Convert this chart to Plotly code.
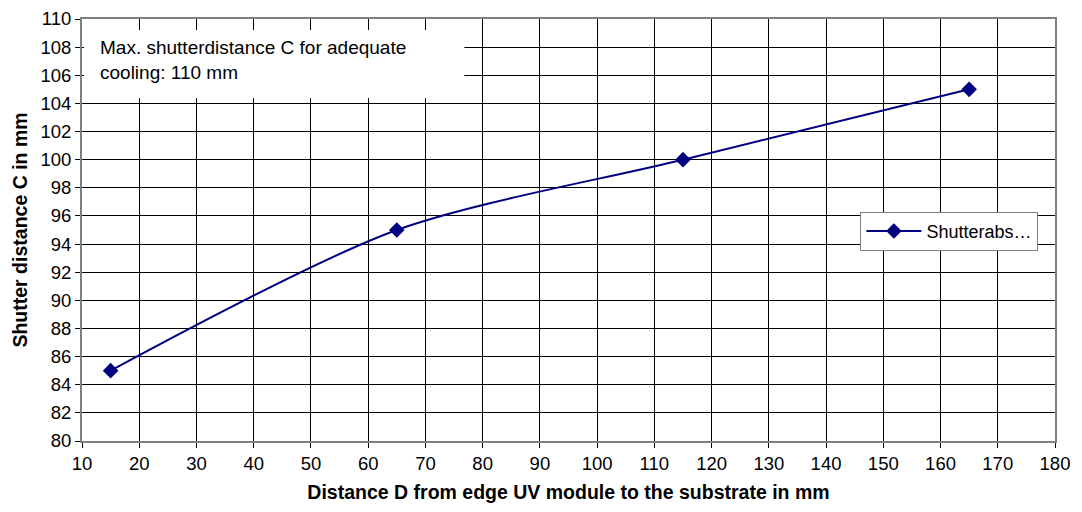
import plotly.graph_objects as go

x_vals = [15, 65, 115, 165]
y_vals = [85, 95, 100, 105]
series_name = "Shutterabs…"
x_title = "Distance D from edge UV module to the substrate in mm"
y_title = "Shutter distance C in mm"
note_text = "Max. shutterdistance C for adequate<br>cooling: 110 mm"

fig = go.Figure()
fig.add_trace(go.Scatter(
    x=x_vals, y=y_vals, name=series_name, mode="lines+markers",
    line=dict(color="#000080", width=2, shape="spline", smoothing=0.8),
    marker=dict(symbol="diamond", size=12, color="#000080"),
))

font = "Liberation Sans, Arial, sans-serif"
fig.update_layout(
    width=1074, height=504,
    margin=dict(l=74, r=27, t=11, b=71),
    paper_bgcolor="white", plot_bgcolor="white",
    font=dict(family=font, size=18.5, color="black"),
    showlegend=True,
    legend=dict(x=0.80, y=0.543, xanchor="left", yanchor="top",
                bgcolor="white", bordercolor="#808080", borderwidth=1,
                font=dict(size=18), itemwidth=55,
                tracegroupgap=0),
)
fig.update_xaxes(
    range=[10, 180], dtick=10, tick0=10, automargin=False,
    showgrid=True, gridcolor="black", gridwidth=1,
    ticks="outside", ticklen=5, tickcolor="black",
    showline=True, linecolor="#808080", linewidth=2, mirror=True,
    zeroline=False,
    title=dict(text="<b>" + x_title + "</b>", font=dict(size=19.5), standoff=12),
)
fig.update_yaxes(
    range=[80, 110], dtick=2, tick0=80, automargin=False,
    showgrid=True, gridcolor="black", gridwidth=1,
    ticks="outside", ticklen=5, tickcolor="black",
    showline=True, linecolor="#808080", linewidth=2, mirror=True,
    zeroline=False,
    title=dict(text="<b>" + y_title + "</b>", font=dict(size=19.5), standoff=8),
)
fig.add_shape(type="rect", xref="paper", yref="paper",
              x0=0.002, x1=0.393, y0=0.813, y1=0.974,
              fillcolor="white", line=dict(width=0), layer="above")
fig.add_annotation(xref="paper", yref="paper", x=0.0165, y=0.962,
                   xanchor="left", yanchor="top", align="left",
                   text=note_text, showarrow=False,
                   font=dict(size=19, family=font))
fig.write_html("out.html")
